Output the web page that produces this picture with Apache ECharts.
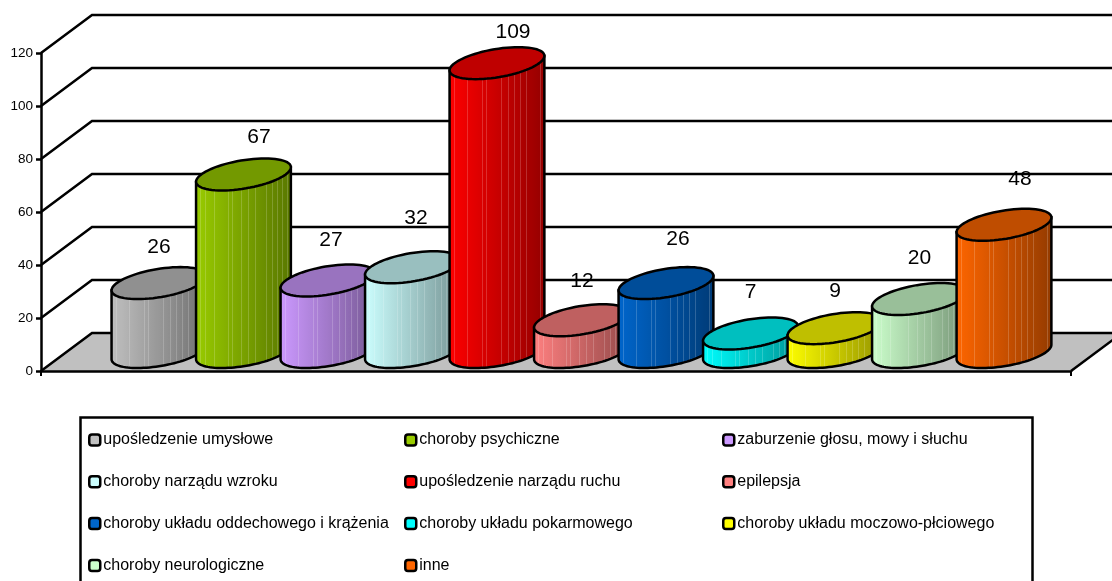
<!DOCTYPE html>
<html><head><meta charset="utf-8">
<style>html,body{margin:0;padding:0;background:#fff;overflow:hidden}#c{width:1112px;height:581px}</style>
<script src="https://cdn.jsdelivr.net/npm/echarts@6/dist/echarts.min.js"></script>
</head><body><div id="c"></div>
<script>
const categories = ['upośledzenie umysłowe','choroby psychiczne','zaburzenie głosu, mowy i słuchu','choroby narządu wzroku','upośledzenie narządu ruchu','epilepsja','choroby układu oddechowego i krążenia','choroby układu pokarmowego','choroby układu moczowo-płciowego','choroby neurologiczne','inne'];
const values = [26,67,27,32,109,12,26,7,9,20,48];
const colors = ['#c0c0c0','#99cc00','#cc99ff','#ccffff','#ff0000','#ff8080','#0066cc','#00ffff','#ffff00','#ccffcc','#ff6600'];
const yTicks = [0,20,40,60,80,100,120];
// layout only
const labelShift = [[0,-35.5],[15.5,-37.5],[3,-40.5],[3.5,-49],[16,-31],[0.5,-39],[12,-44],[0,-41],[0,-37],[0,-41],[16,-46]];
const stripeAt = [0.06,0.11,0.2,0.35,0.39,0.48,0.55,0.62,0.68,0.74,0.8,0.85,0.9,0.95];
const xMin = -1.396, xMax = 10.793;
const wallDx = 51, wallDy = 38;
const cylDx = 43, cylDy = 32, floorShift = 19;
const strokeW = 2.5;

function shade(hex, f){
  const n = parseInt(hex.slice(1),16);
  return 'rgb(' + [(n>>16)&255,(n>>8)&255,n&255].map(c=>Math.round(Math.min(255,c*f))).join(',') + ')';
}
function lighter(hex, f, mix){
  const n = parseInt(hex.slice(1),16);
  return 'rgb(' + [(n>>16)&255,(n>>8)&255,n&255].map(c=>Math.round(c*f+(255-c*f)*mix)).join(',') + ')';
}
function bodyGradient(col){
  const stops = [];
  const at = p => 1 - 0.42*p;
  let last = 0;
  stripeAt.forEach(s=>{
    stops.push({offset:last,color:shade(col,at(last))});
    stops.push({offset:s-0.004,color:shade(col,at(s))});
    stops.push({offset:s-0.004,color:lighter(col,at(s),0.18)});
    stops.push({offset:s+0.004,color:lighter(col,at(s),0.18)});
    stops.push({offset:s+0.004,color:shade(col,at(s))});
    last = s+0.004;
  });
  stops.push({offset:1,color:shade(col,at(1))});
  return new echarts.graphic.LinearGradient(0,0,1,0,stops);
}
function renderWall(params, api){
  const v = api.value(0);
  const a = api.coord([xMin, v]), b = api.coord([xMax, v]);
  const children = [];
  if (v === 0) {
    children.push({type:'polygon',shape:{points:[a,b,[b[0]+wallDx,b[1]-wallDy],[a[0]+wallDx,a[1]-wallDy]]},
      style:{fill:'#c0c0c0',stroke:null}});
    children.push({type:'line',shape:{x1:b[0],y1:b[1],x2:b[0]+wallDx,y2:b[1]-wallDy},style:{stroke:'#000',lineWidth:strokeW,fill:null}});
  }
  children.push({type:'polyline',shape:{points:[a,[a[0]+wallDx,a[1]-wallDy],[b[0]+wallDx,b[1]-wallDy]]},
    style:{stroke:'#000',lineWidth:strokeW,fill:null}});
  return {type:'group',children};
}
function renderCylinder(i){
  return function(params, api){
    const x = api.value(0), v = api.value(1);
    const top = api.coord([x, v]), base = api.coord([x, 0]);
    const a = api.size([1,0])[0]/2;
    const bx = cylDx/2, by = cylDy/2;
    const cx = top[0], ty = top[1]-floorShift, by0 = base[1]-floorShift;
    const pt = (t,cy)=>[cx + a*Math.cos(t) + bx*Math.sin(t), cy - by*Math.sin(t)];
    const t0 = Math.atan2(bx,a);
    const ell = [], arc = [];
    for(let k=0;k<72;k++) ell.push(pt(k/72*2*Math.PI,ty));
    for(let k=0;k<=48;k++) arc.push(pt(Math.PI+t0+k/48*Math.PI,by0));
    const body = [pt(Math.PI+t0,ty)].concat(arc,[pt(t0,ty)]);
    const col = colors[i];
    const s = labelShift[i];
    return {type:'group',children:[
      {type:'polygon',shape:{points:body},style:{fill:bodyGradient(col),stroke:'#000',lineWidth:strokeW}},
      {type:'polygon',shape:{points:ell},style:{fill:shade(col,0.75),stroke:'#000',lineWidth:strokeW}},
      {type:'text',x:cx+s[0],y:ty+s[1],style:{text:String(v),font:'21px "Liberation Sans",Arial,sans-serif',fill:'#000',align:'center',verticalAlign:'middle'}}
    ]};
  };
}
const series = [{
  type:'custom',name:'wall',z:-1,silent:true,clip:false,
  dimensions:['v'],encode:{y:0},
  data:yTicks.map(v=>[v]),
  renderItem:renderWall
}].concat(categories.map((name,i)=>({
  type:'custom',name,z:2+i,silent:true,clip:false,
  itemStyle:{color:colors[i]},
  data:[[i,values[i]]],
  encode:{x:0,y:1},
  renderItem:renderCylinder(i)
})));
const legendCol = (items,left)=>({
  show:true,orient:'vertical',left,top:432,padding:0,itemGap:25.8,itemWidth:11,itemHeight:11,
  icon:'roundRect',selectedMode:false,data:items,
  itemStyle:{borderColor:'#000',borderWidth:2.5},
  textStyle:{fontFamily:'"Liberation Sans",Arial,sans-serif',fontSize:16,color:'#000',padding:[0,0,0,-2]}
});
const colA=[0,3,6,9].map(i=>categories[i]), colB=[1,4,7,10].map(i=>categories[i]), colC=[2,5,8].map(i=>categories[i]);
const chart = echarts.init(document.getElementById('c'),null,{renderer:'canvas'});
chart.setOption({
  animation:false,backgroundColor:'#fff',
  grid:{left:41,right:41,top:53,bottom:210,containLabel:false},
  xAxis:{type:'value',min:xMin,max:xMax,splitLine:{show:false},axisLabel:{show:false},
    axisLine:{show:true,onZero:false,lineStyle:{color:'#000',width:strokeW}},
    axisTick:{show:true,customValues:[xMin,xMax],length:5,lineStyle:{color:'#000',width:2}}},
  yAxis:{type:'value',min:0,max:120,interval:20,splitLine:{show:false},
    axisLine:{show:true,onZero:false,lineStyle:{color:'#000',width:strokeW}},
    axisTick:{show:true,length:5,lineStyle:{color:'#000',width:2.5}},
    axisLabel:{margin:8,fontFamily:'"Liberation Sans",Arial,sans-serif',fontSize:13.5,color:'#000'}},
  legend:[legendCol(colA,88),legendCol(colB,404),legendCol(colC,722)],
  graphic:[{type:'rect',left:78,top:415,shape:{width:952,height:190},style:{fill:'none',stroke:'#000',lineWidth:2.5},silent:true,z:0}],
  series
});
</script></body></html>
